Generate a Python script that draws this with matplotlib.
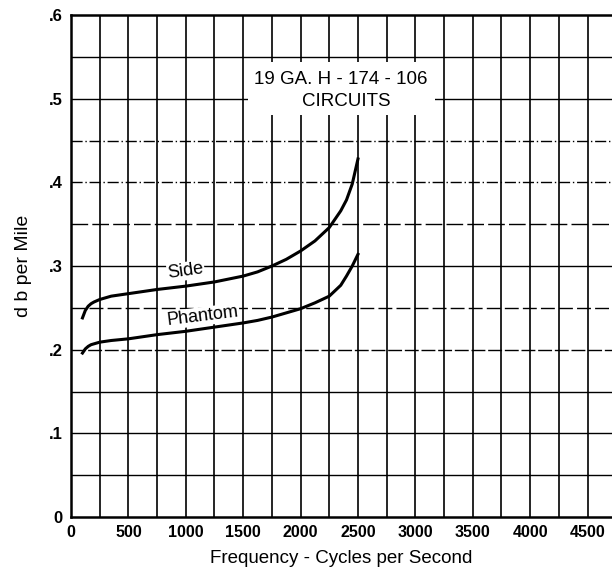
import numpy as np
import matplotlib
matplotlib.use('Agg')
import matplotlib.pyplot as plt
from matplotlib.patches import Rectangle

plt.rcParams['font.family'] = ['Liberation Sans', 'DejaVu Sans']

# frequency (cycles per second) and attenuation (db per mile)
freq = [100, 125, 150, 175, 200, 250, 350, 500, 750, 1000, 1250, 1500, 1625, 1750,
        1875, 2000, 2125, 2250, 2350, 2400, 2450, 2500]
side = [0.238, 0.247, 0.252, 0.255, 0.257, 0.260, 0.264, 0.267, 0.272, 0.276, 0.281,
        0.288, 0.293, 0.300, 0.308, 0.318, 0.330, 0.346, 0.366, 0.379, 0.398, 0.428]
phantom = [0.196, 0.201, 0.204, 0.206, 0.207, 0.209, 0.211, 0.213, 0.218, 0.222, 0.227,
           0.232, 0.235, 0.239, 0.244, 0.249, 0.256, 0.264, 0.277, 0.288, 0.300, 0.314]

xticks = [0, 500, 1000, 1500, 2000, 2500, 3000, 3500, 4000, 4500]
yticks = [0, 0.1, 0.2, 0.3, 0.4, 0.5, 0.6]
ylabels = ['0', '.1', '.2', '.3', '.4', '.5', '.6']

fig = plt.figure(figsize=(6.12, 5.73), dpi=100)
ax = fig.add_axes([0.116, 0.0977, 0.884, 0.876])
ax.set_xlim(0, 4713)
ax.set_ylim(0, 0.6)

# grid
for gx in range(250, 4751, 250):
    ax.axvline(gx, color='black', lw=1.2, zorder=1)
hstyles = {0.05: '-', 0.1: '-', 0.15: '-', 0.2: (0, (10, 2)), 0.25: (0, (10, 3)),
           0.3: '-', 0.35: (0, (12, 3)), 0.4: (0, (8, 2, 1, 2)), 0.45: (0, (8, 2, 1, 2)),
           0.5: '-', 0.55: '-'}
for gy, ls in hstyles.items():
    ax.axhline(gy, color='black', lw=1.0, ls=ls, zorder=1)

# title box
ax.add_patch(Rectangle((1540, 0.48), 1630, 0.064, facecolor='white', edgecolor='none', zorder=2))
ax.text(2352, 0.5235, '19 GA. H - 174 - 106', ha='center', va='center', fontsize=13.5, zorder=3)
ax.text(2395, 0.497, 'CIRCUITS', ha='center', va='center', fontsize=13.5, zorder=3)

ax.plot(freq, side, color='black', lw=2.2, zorder=4, solid_joinstyle='round')
ax.plot(freq, phantom, color='black', lw=2.2, zorder=4, solid_joinstyle='round')

ax.text(1000, 0.294, 'Side', ha='center', va='center', rotation=8, fontsize=13,
        zorder=5, bbox=dict(facecolor='white', edgecolor='none', pad=0.5))
ax.text(1150, 0.240, 'Phantom', ha='center', va='center', rotation=7, fontsize=13,
        zorder=5, bbox=dict(facecolor='white', edgecolor='none', pad=0.5))

for s in ['left', 'bottom', 'top']:
    ax.spines[s].set_linewidth(1.8)
ax.spines['right'].set_visible(False)

ax.set_xticks(xticks)
ax.set_xticklabels([str(t) for t in xticks], fontweight='bold', fontsize=11.5)
ax.set_yticks(yticks)
ax.set_yticklabels(ylabels, fontweight='bold', fontsize=12)
ax.tick_params(length=0, pad=6)

ax.set_xlabel('Frequency - Cycles per Second', fontsize=13.5, labelpad=7)
ax.set_ylabel('d b per Mile', fontsize=14, labelpad=12)

fig.savefig('out.png', dpi=100)
